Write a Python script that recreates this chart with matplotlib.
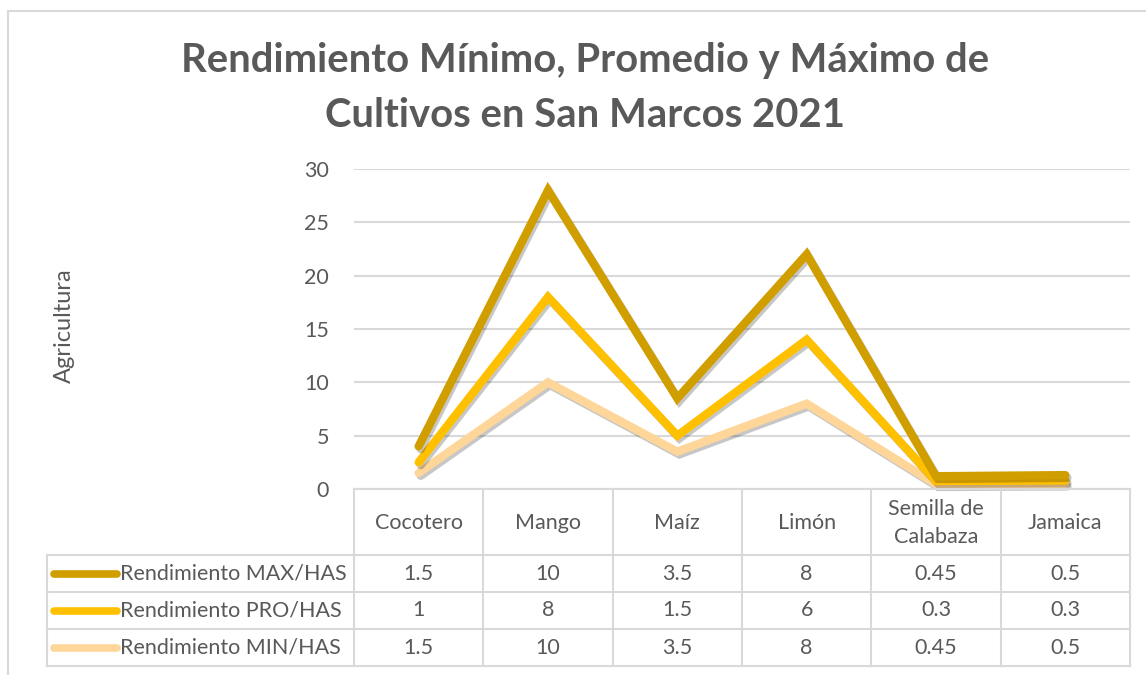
import numpy as np
import matplotlib
matplotlib.use("Agg")
import matplotlib.pyplot as plt
import matplotlib.patheffects as pe

# data
cultivos = ["Cocotero", "Mango", "Maíz", "Limón", "Semilla de\nCalabaza", "Jamaica"]
rend_max = [1.5, 10, 3.5, 8, 0.45, 0.5]
rend_pro = [1, 8, 1.5, 6, 0.3, 0.3]
rend_min = [1.5, 10, 3.5, 8, 0.45, 0.5]
series_names = ["Rendimiento MAX/HAS", "Rendimiento PRO/HAS", "Rendimiento MIN/HAS"]
series_vals = [rend_max, rend_pro, rend_min]
colors = ["#D19E00", "#FFC000", "#FFD699"]
yticks = [0, 5, 10, 15, 20, 25, 30]

title = "Rendimiento Mínimo, Promedio y Máximo de\nCultivos en San Marcos 2021"
ylabel = "Agricultura"

plt.rcParams['font.family'] = ['Lato', 'DejaVu Sans']
txt = "#595959"
grid_c = "#D9D9D9"
fs = 15.5

W, H = 1146, 675
fig = plt.figure(figsize=(W / 100, H / 100), dpi=100)

# chart border
fig.add_artist(plt.Rectangle((8 / W, -0.1), 1.2, (H - 11) / H + 0.1,
                             transform=fig.transFigure, fill=False,
                             edgecolor=grid_c, linewidth=1.5))

# plot area in pixels
px_l, px_r, px_top, px_bot = 354, 1130, 169, 489
ax = fig.add_axes([px_l / W, (H - px_bot) / H, (px_r - px_l) / W, (px_bot - px_top) / H])
n = len(cultivos)
x = np.arange(n) + 0.5
ax.set_xlim(0, n)
ax.set_ylim(0, 30)
ax.set_yticks(yticks)
ax.grid(axis='y', color=grid_c, linewidth=1.5)
ax.set_axisbelow(True)
for s in ax.spines.values():
    s.set_visible(False)
ax.tick_params(axis='y', length=0, pad=18, labelsize=fs, labelcolor=txt)
ax.set_xticks([])

# stacked lines: MIN at the bottom, then PRO, then MAX
stack = np.cumsum([rend_min, rend_pro, rend_max], axis=0)
stack_cols = [colors[2], colors[1], colors[0]]
for vals, c in zip(stack, stack_cols):
    ax.plot(x, vals, color=c, linewidth=6, solid_capstyle='round',
            solid_joinstyle='miter', clip_on=False,
            path_effects=[pe.SimpleLineShadow(offset=(1.5, -2), alpha=0.22),
                          pe.Normal()])

fig.text(64 / W, 1 - 326 / H, ylabel, rotation=90, ha='center', va='center',
         fontsize=17, color=txt)

fig.text(585 / W, 1 - 88 / H, title, ha='center', va='center', fontsize=28.8,
         fontweight='bold', color=txt, linespacing=1.6)

# data table below the plot
tab_l, tab_bot = 47, 666
colw = (px_r - px_l) / n
tax = fig.add_axes([tab_l / W, (H - tab_bot) / H, (px_r - tab_l) / W, (tab_bot - px_bot) / H])
tax.set_xlim(-(px_l - tab_l) / colw, n)
tax.set_ylim(0, tab_bot - px_bot)
tax.axis('off')
x0 = -(px_l - tab_l) / colw
row_h = 37
hdr_bot = 3 * row_h
top = tab_bot - px_bot
lw = 1.5
# horizontal lines
tax.plot([0, n], [top, top], color=grid_c, lw=lw, clip_on=False)
for yy in [0, row_h, 2 * row_h, hdr_bot]:
    tax.plot([x0, n], [yy, yy], color=grid_c, lw=lw, clip_on=False)
# vertical lines
tax.plot([x0, x0], [0, hdr_bot], color=grid_c, lw=lw, clip_on=False)
for i in range(n + 1):
    tax.plot([i, i], [0, top], color=grid_c, lw=lw, clip_on=False)

for i, c in enumerate(cultivos):
    tax.text(i + 0.5, (hdr_bot + top) / 2 - 1, c, ha='center', va='center',
             fontsize=fs, color=txt, linespacing=1.5)

for r, (name, vals, c) in enumerate(zip(series_names, series_vals, colors)):
    yc = hdr_bot - (r + 0.5) * row_h
    tax.plot([x0 + 7 / colw, x0 + 70 / colw], [yc, yc], color=c, lw=5.5,
             solid_capstyle='round', clip_on=False)
    tax.text(x0 + 73 / colw, yc, name, ha='left', va='center', fontsize=fs, color=txt)
    for i, v in enumerate(vals):
        tax.text(i + 0.5, yc, f"{v:g}", ha='center', va='center', fontsize=fs, color=txt)

fig.savefig("out.png", dpi=100)
